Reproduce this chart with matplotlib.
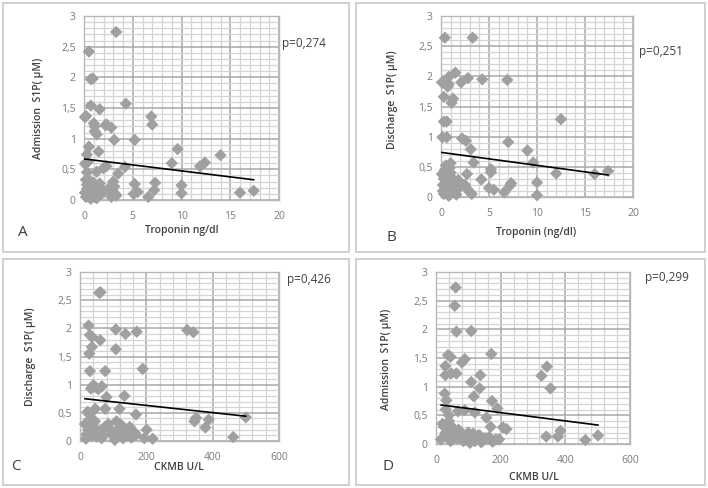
import matplotlib
matplotlib.use("Agg")
import matplotlib.pyplot as plt
from matplotlib.patches import Rectangle
from matplotlib.ticker import MultipleLocator

plt.rcParams['font.family'] = ['Open Sans', 'DejaVu Sans']

# ---------------- data ----------------
# Panel A: Troponin vs Admission S1P
a_x = [3.3, 0.5, 0.7, 0.9, 0.7, 1.6, 0.2, 0.1, 4.3, 1.0, 1.1, 2.2, 2.8, 2.3, 1.3, 6.9, 7.0,
       3.1, 5.2, 0.5, 1.5, 9.6, 14.0, 0.3, 9.0, 11.9, 12.4, 2.3, 2.0, 0.1, 0.3, 4.2, 1.3, 3.5,
       5.2, 7.3, 7.2, 10.0, 10.0, 5.1, 5.5, 6.6, 16.0, 17.4, 0.4, 1.1,
       0.1, 0.2, 0.3, 0.4, 0.5, 0.6, 0.7, 0.8, 0.9, 1.0, 1.1, 1.2, 1.3, 1.4, 1.5, 1.6, 1.8, 2.0,
       0.3, 0.5, 0.7, 0.9, 1.1, 1.3, 0.2, 0.6, 1.0, 1.4, 2.6, 2.8, 3.0, 3.2, 2.7, 3.1, 3.3, 2.9]
a_y = [2.74, 2.42, 1.97, 1.98, 1.54, 1.48, 1.37, 1.35, 1.57, 1.25, 1.2, 1.22, 1.18, 1.23, 1.07, 1.36, 1.23,
       0.98, 0.98, 0.87, 0.79, 0.83, 0.73, 0.74, 0.6, 0.55, 0.61, 0.55, 0.52, 0.59, 0.45, 0.54, 0.46, 0.43,
       0.26, 0.28, 0.16, 0.24, 0.11, 0.1, 0.13, 0.05, 0.12, 0.15, 0.62, 1.12,
       0.12, 0.05, 0.25, 0.08, 0.3, 0.15, 0.02, 0.2, 0.1, 0.28, 0.05, 0.18, 0.08, 0.22, 0.12, 0.27, 0.1, 0.15,
       0.18, 0.06, 0.3, 0.25, 0.12, 0.03, 0.33, 0.1, 0.15, 0.06, 0.2, 0.05, 0.3, 0.1, 0.13, 0.22, 0.07, 0.16]
a_trend_x = [0.0, 17.4]
a_trend_y = [0.67, 0.33]

# Panel B: Troponin vs Discharge S1P
b_x = [0.4, 3.3, 1.5, 0.8, 0.1, 2.1, 2.8, 4.3, 6.9, 0.7, 0.8, 0.3, 1.25, 1.1, 0.3, 0.6, 12.5,
       0.15, 0.6, 2.2, 2.6, 3.1, 7.0, 9.0, 9.6, 12.0, 16.0, 17.4, 3.4, 5.2, 5.2, 2.7, 4.2, 7.3,
       7.2, 10.0, 10.0, 6.6, 5.5, 5.0, 1.0, 0.5,
       0.1, 0.2, 0.3, 0.4, 0.5, 0.6, 0.7, 0.8, 0.9, 1.0, 1.1, 1.2, 1.3, 1.4, 1.5, 1.6, 1.8, 2.0,
       0.2, 0.4, 0.6, 0.8, 1.0, 1.2, 0.3, 0.7, 1.1, 1.5, 2.5, 2.8, 3.0, 3.2, 0.9, 0.5]
b_y = [2.64, 2.64, 2.06, 1.99, 1.9, 1.9, 1.97, 1.95, 1.94, 1.83, 1.87, 1.66, 1.63, 1.56, 1.25, 1.25, 1.29,
       0.99, 0.99, 0.97, 0.93, 0.79, 0.91, 0.77, 0.57, 0.39, 0.38, 0.43, 0.57, 0.46, 0.41, 0.38, 0.29, 0.23,
       0.19, 0.24, 0.03, 0.08, 0.12, 0.15, 0.56, 0.52,
       0.38, 0.2, 0.05, 0.3, 0.15, 0.42, 0.1, 0.25, 0.35, 0.05, 0.2, 0.3, 0.12, 0.08, 0.22, 0.04, 0.28, 0.18,
       0.1, 0.45, 0.22, 0.02, 0.4, 0.15, 0.3, 0.06, 0.27, 0.1, 0.2, 0.12, 0.08, 0.05, 0.48, 0.32]
b_trend_x = [0.0, 17.4]
b_trend_y = [0.74, 0.365]

# Panel C: CKMB vs Discharge S1P
c_x = [58, 62, 26, 30, 36, 61, 108, 137, 171, 323, 342, 36, 28, 108, 30, 76, 189,
       33, 46, 66, 40, 55, 80, 134, 76, 46, 119, 23, 28, 169, 350, 345, 388, 378, 500, 462,
       201, 219, 194, 169, 18,
       15, 25, 35, 45, 55, 65, 75, 85, 95, 105, 115, 125, 135, 145, 155, 165,
       20, 30, 40, 50, 60, 70, 90, 100, 110, 120, 130, 140, 150, 160, 110, 125]
c_y = [2.63, 2.64, 2.05, 1.88, 1.85, 1.79, 1.98, 1.9, 1.94, 1.97, 1.93, 1.67, 1.55, 1.63, 1.24, 1.24, 1.28,
       0.93, 0.96, 0.97, 0.99, 0.92, 0.78, 0.8, 0.57, 0.57, 0.57, 0.52, 0.47, 0.47, 0.41, 0.35, 0.38, 0.24, 0.42, 0.07,
       0.2, 0.04, 0.05, 0.11, 0.04,
       0.3, 0.2, 0.1, 0.35, 0.15, 0.05, 0.25, 0.3, 0.12, 0.02, 0.2, 0.28, 0.22, 0.1, 0.06, 0.15,
       0.12, 0.38, 0.25, 0.08, 0.18, 0.1, 0.22, 0.15, 0.08, 0.3, 0.05, 0.18, 0.25, 0.1, 0.35, 0.12]
c_trend_x = [15, 500]
c_trend_y = [0.75, 0.44]

# Panel D: CKMB vs Admission S1P
d_x = [61, 58, 63, 109, 37, 45, 171, 89, 80, 29, 29, 47, 63, 343, 326, 354, 137, 109, 135,
       117, 173, 190, 27, 32, 156, 120, 89, 68, 169, 207, 218, 341, 377, 385, 462, 501,
       30, 40,
       15, 25, 35, 45, 55, 65, 75, 85, 95, 105, 115, 125, 135, 145, 155, 165, 175, 185,
       20, 30, 40, 50, 60, 70, 90, 100, 110, 120, 130, 140, 150, 195, 35, 45]
d_y = [2.73, 2.41, 1.96, 1.97, 1.55, 1.52, 1.57, 1.48, 1.42, 1.36, 1.2, 1.23, 1.23, 1.35, 1.19, 0.97, 1.2, 1.08, 0.97,
       0.83, 0.75, 0.62, 0.88, 0.76, 0.46, 0.55, 0.59, 0.57, 0.3, 0.29, 0.26, 0.13, 0.13, 0.23, 0.07, 0.15,
       0.6, 0.5,
       0.08, 0.3, 0.15, 0.05, 0.25, 0.1, 0.2, 0.05, 0.12, 0.02, 0.18, 0.08, 0.15, 0.06, 0.1, 0.12, 0.04, 0.08,
       0.35, 0.2, 0.4, 0.3, 0.15, 0.25, 0.08, 0.2, 0.1, 0.05, 0.15, 0.03, 0.1, 0.08, 0.28, 0.12]
d_trend_x = [16, 501]
d_trend_y = [0.68, 0.33]

y_ticks = [0, 0.5, 1, 1.5, 2, 2.5, 3]
y_tick_labels = ["0", "0,5", "1", "1,5", "2", "2,5", "3"]
trop_ticks = [0, 5, 10, 15, 20]
ckmb_ticks = [0, 200, 400, 600]

panels = [
    dict(x=a_x, y=a_y, tx=a_trend_x, ty=a_trend_y, xt=trop_ticks, xmax=20, xminor=1,
         xlabel="Troponin ng/dl", ylabel="Admission  S1P( µM)", p="p=0,274", letter="A"),
    dict(x=b_x, y=b_y, tx=b_trend_x, ty=b_trend_y, xt=trop_ticks, xmax=20, xminor=1,
         xlabel="Troponin (ng/dl)", ylabel="Discharge  S1P( µM)", p="p=0,251", letter="B"),
    dict(x=c_x, y=c_y, tx=c_trend_x, ty=c_trend_y, xt=ckmb_ticks, xmax=600, xminor=40,
         xlabel="CKMB U/L", ylabel="Discharge  S1P( µM)", p="p=0,426", letter="C"),
    dict(x=d_x, y=d_y, tx=d_trend_x, ty=d_trend_y, xt=ckmb_ticks, xmax=600, xminor=40,
         xlabel="CKMB U/L", ylabel="Admission  S1P( µM)", p="p=0,299", letter="D"),
]

# ---------------- layout (pixels) ----------------
W, H = 708, 488
fig = plt.figure(figsize=(W / 100, H / 100), dpi=100)
fig.patch.set_facecolor("white")

def fx(px):
    return px / W

def fy(py):
    return 1 - py / H

# panel frames: (x0, y0, x1, y1)
frames = [(3, 3, 349, 252), (356, 3, 705, 252), (3, 259, 349, 485), (356, 259, 705, 485)]
# axes boxes
boxes = [(84, 16, 279, 200), (441, 16, 633, 197), (80, 272, 279, 441), (436, 272, 630, 444)]
# text placements (pixels)
pvals = [(282, 43), (639, 52), (287, 279), (645, 277)]
letters = [(18, 232), (386, 238), (11, 467), (383, 467)]
xlabels = [(182, 231), (536, 232), (179, 468), (534, 477)]
ylabels = [(38, 108), (392, 100), (30, 357), (387, 359)]

for fr in frames:
    x0, y0, x1, y1 = fr
    fig.add_artist(Rectangle((fx(x0), fy(y1)), fx(x1) - fx(x0), fy(y0) - fy(y1),
                             transform=fig.transFigure, fill=False,
                             edgecolor="#c8c8c8", linewidth=1.2))

for i, pnl in enumerate(panels):
    x0, y0, x1, y1 = boxes[i]
    ax = fig.add_axes([fx(x0), fy(y1), fx(x1) - fx(x0), fy(y0) - fy(y1)])
    ax.set_xlim(0, pnl["xmax"])
    ax.set_ylim(0, 3)
    ax.set_xticks(pnl["xt"])
    ax.set_xticklabels([str(t) for t in pnl["xt"]])
    ax.set_yticks(y_ticks)
    ax.set_yticklabels(y_tick_labels)
    ax.xaxis.set_minor_locator(MultipleLocator(pnl["xminor"]))
    ax.yaxis.set_minor_locator(MultipleLocator(0.1))
    ax.grid(which="minor", color="#d4d4d4", linewidth=0.9)
    ax.grid(which="major", color="#a8a8a8", linewidth=1.1)
    ax.set_axisbelow(True)
    for s in ax.spines.values():
        s.set_color("#b8b8b8")
        s.set_linewidth(1.0)
    ax.tick_params(which="both", length=0, labelsize=7.5, labelcolor="#7a7a7a")
    ax.tick_params(axis="x", pad=8)
    ax.tick_params(axis="y", pad=6)
    ax.scatter(pnl["x"], pnl["y"], marker="D", s=40, color="#a0a0a0",
               edgecolors="none", zorder=3, clip_on=False)
    ax.plot(pnl["tx"], pnl["ty"], color="black", linewidth=1.2, zorder=4)

    px, py = pvals[i]
    fig.text(fx(px), fy(py), pnl["p"], fontsize=8.5, color="#404040", ha="left", va="center")
    lx, ly = letters[i]
    fig.text(fx(lx), fy(ly), pnl["letter"], fontsize=11, color="#404040", ha="left", va="center")
    xx, xy = xlabels[i]
    fig.text(fx(xx), fy(xy), pnl["xlabel"], fontsize=7.5, color="#404040",
             fontweight="semibold", ha="center", va="center")
    yx, yy = ylabels[i]
    fig.text(fx(yx), fy(yy), pnl["ylabel"], fontsize=7.5, color="#404040",
             fontweight="semibold", ha="center", va="center", rotation=90)

fig.savefig("out.png", dpi=100, facecolor="white")
